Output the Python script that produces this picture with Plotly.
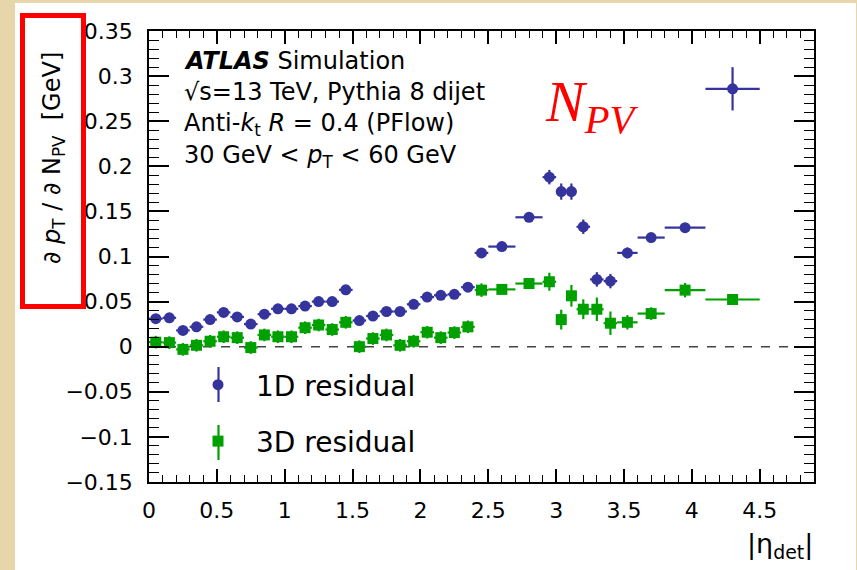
import plotly.graph_objects as go

# ---------------- data ----------------
eta = [0.05, 0.15, 0.25, 0.35, 0.45, 0.55, 0.65, 0.75, 0.85, 0.95,
       1.05, 1.15, 1.25, 1.35, 1.45, 1.55, 1.65, 1.75, 1.85, 1.95,
       2.05, 2.15, 2.25, 2.35, 2.45, 2.6, 2.8, 2.95, 3.0375, 3.1125,
       3.2, 3.3, 3.4, 3.525, 3.7, 3.95, 4.3]
eta_err = [0.05] * 25 + [0.1, 0.1, 0.05, 0.0375, 0.0375, 0.05, 0.05, 0.05,
                         0.075, 0.1, 0.15, 0.2]

res_1d = [0.031, 0.032, 0.018, 0.022, 0.030, 0.038, 0.033, 0.025, 0.036, 0.042,
          0.042, 0.045, 0.050, 0.050, 0.063, 0.029, 0.034, 0.039, 0.039, 0.047,
          0.055, 0.057, 0.058, 0.066, 0.104, 0.111, 0.1435, 0.188, 0.172, 0.172,
          0.133, 0.0746, 0.0727, 0.104, 0.121, 0.132, 0.286]
res_1d_err = [0.005] * 25 + [0.003, 0.003, 0.008, 0.009, 0.009, 0.008, 0.008,
                             0.008, 0.006, 0.003, 0.003, 0.024]

res_3d = [0.005, 0.0045, -0.003, 0.0015, 0.006, 0.011, 0.010, -0.001, 0.013, 0.011,
          0.011, 0.021, 0.024, 0.019, 0.027, 0.000, 0.009, 0.013, 0.0015, 0.006,
          0.016, 0.010, 0.0156, 0.022, 0.0627, 0.0635, 0.070, 0.072, 0.030, 0.0564,
          0.0415, 0.0415, 0.026, 0.027, 0.0367, 0.0627, 0.0523]
res_3d_err = [0.007] * 24 + [0.0075, 0.005, 0.006, 0.010, 0.011, 0.012, 0.011,
                             0.013, 0.013, 0.008, 0.007, 0.008, 0.006]

labels = ["1D residual", "3D residual"]
colors = ["#34349c", "#00a000"]

# ---------------- layout geometry (pixels) ----------------
W, H = 857, 570
L, R, T, B = 149, 814, 31, 482
PW, PH = R - L, B - T

def px(x):
    return (x - L) / PW

def py(y):
    return (B - y) / PH

FONT = "DejaVu Sans"

fig = go.Figure()

fig.add_trace(go.Scatter(
    x=eta, y=res_1d, mode="markers", name=labels[0], legendgroup="a",
    marker=dict(symbol="circle", size=11, color=colors[0]),
    error_x=dict(type="data", array=eta_err, color=colors[0], thickness=2.2, width=0),
    error_y=dict(type="data", array=res_1d_err, color=colors[0], thickness=2.2, width=0),
))
fig.add_trace(go.Scatter(
    x=eta, y=res_3d, mode="markers", name=labels[1], legendgroup="b",
    marker=dict(symbol="square", size=11, color=colors[1]),
    error_x=dict(type="data", array=eta_err, color=colors[1], thickness=2.2, width=0),
    error_y=dict(type="data", array=res_3d_err, color=colors[1], thickness=2.2, width=0),
))

shapes = [
    # white panel over parchment background
    dict(type="rect", xref="paper", yref="paper", x0=px(15), x1=px(856), y0=py(3), y1=py(572),
         fillcolor="white", line=dict(width=0), layer="below"),
    # zero line
    dict(type="line", xref="paper", yref="y", x0=0, x1=1, y0=0, y1=0,
         line=dict(color="#444444", width=1.5, dash="dash"), layer="below"),
    # red box around y title
    dict(type="rect", xref="paper", yref="paper", x0=px(22.5), x1=px(83.5), y0=py(15.5), y1=py(306.5),
         line=dict(color="#ff0000", width=5), fillcolor="rgba(0,0,0,0)"),
    # legend error bars
    dict(type="line", xref="paper", yref="paper", x0=px(218.5), x1=px(218.5), y0=py(367), y1=py(402),
         line=dict(color=colors[0], width=2.2)),
    dict(type="line", xref="paper", yref="paper", x0=px(218.5), x1=px(218.5), y0=py(425), y1=py(460),
         line=dict(color=colors[1], width=2.2)),
]

def ann(text, x, y, size, xanchor="left", yanchor="middle", color="black", family=FONT, angle=0):
    return dict(text=text, x=px(x), y=py(y), xref="paper", yref="paper", showarrow=False,
                xanchor=xanchor, yanchor=yanchor, textangle=angle,
                font=dict(family=family, size=size, color=color))

annotations = [
    ann("<b><i>ATLAS</i></b> Simulation", 182, 61, 24),
    ann("√s=13 TeV, Pythia 8 dijet", 182, 92, 24),
    ann("Anti-<i>k</i><sub>t</sub> <i>R</i> = 0.4 (PFlow)", 182, 125, 24),
    ann("30 GeV &lt; <i>p</i><sub>T</sub> &lt; 60 GeV", 182, 156, 24),
    ann("<i>N</i><sub><i>PV</i></sub>", 543, 106, 58, color="#ff0000", family="Liberation Serif"),
    ann("∂ <i>p</i><sub>T</sub> / ∂ N<sub>PV</sub>  [GeV]", 53, 158, 24, xanchor="center", angle=-90),
    ann("|η<sub>det</sub>|", 815, 545, 27, xanchor="right"),
]

axis_common = dict(
    showline=True, linecolor="black", linewidth=1.5, mirror="allticks",
    ticks="inside", tickcolor="black", tickwidth=1.5,
    showgrid=False, zeroline=False,
    tickfont=dict(family=FONT, size=22, color="black"),
)

fig.update_layout(
    width=W, height=H,
    margin=dict(l=L, r=W - R, t=T, b=H - B),
    paper_bgcolor="#e8d6ab",
    plot_bgcolor="white",
    shapes=shapes,
    annotations=annotations,
    showlegend=True,
    legend=dict(x=px(180), y=py(360), xanchor="left", yanchor="top",
                bgcolor="rgba(0,0,0,0)", borderwidth=0, itemwidth=66,
                traceorder="grouped", tracegroupgap=17,
                font=dict(family=FONT, size=28, color="black")),
    xaxis=dict(range=[0, 4.9], tickvals=[0, 0.5, 1, 1.5, 2, 2.5, 3, 3.5, 4, 4.5],
               ticktext=["0", "0.5", "1", "1.5", "2", "2.5", "3", "3.5", "4", "4.5"],
               ticklen=13, ticklabelstandoff=8,
               minor=dict(tick0=0, dtick=0.1, ticklen=7, ticks="inside", tickcolor="black", tickwidth=1.2),
               **axis_common),
    yaxis=dict(range=[-0.1501, 0.3501], tickvals=[-0.15, -0.1, -0.05, 0, 0.05, 0.1, 0.15, 0.2, 0.25, 0.3, 0.35],
               ticktext=["−0.15", "−0.1", "−0.05", "0", "0.05", "0.1", "0.15", "0.2", "0.25", "0.3", "0.35"],
               ticklen=20, ticklabelstandoff=10,
               minor=dict(tick0=0, dtick=0.01, ticklen=10, ticks="inside", tickcolor="black", tickwidth=1.2),
               **axis_common),
)

fig.write_html("out.html", config={"displayModeBar": False},
               post_script="document.body.style.margin='0px';document.body.style.overflow='hidden';")
